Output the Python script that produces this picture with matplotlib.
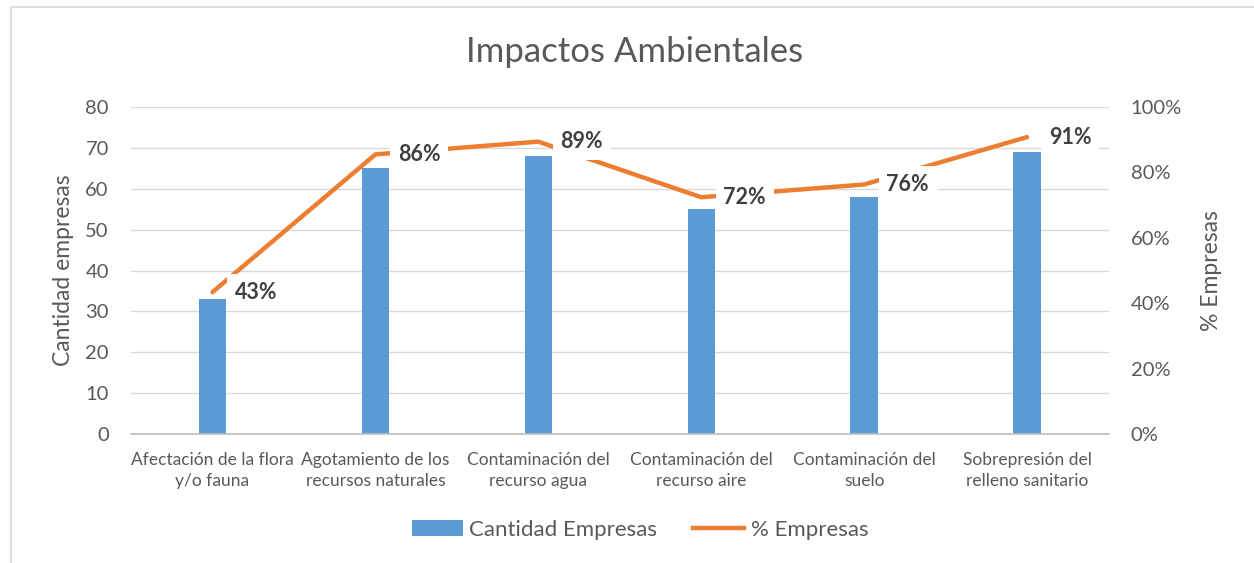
import matplotlib.pyplot as plt
from matplotlib.patches import Patch, Rectangle
from matplotlib.lines import Line2D

plt.rcParams['font.family'] = ['Lato', 'DejaVu Sans']

# datos del gráfico
categorias = ["Afectación de la flora\ny/o fauna",
              "Agotamiento de los\nrecursos naturales",
              "Contaminación del\nrecurso agua",
              "Contaminación del\nrecurso aire",
              "Contaminación del\nsuelo",
              "Sobrepresión del\nrelleno sanitario"]
cantidad = [33, 65, 68, 55, 58, 69]
porcentaje = [0.434, 0.855, 0.894, 0.724, 0.763, 0.908]

azul = '#5B9BD5'
naranja = '#ED7D31'
gris_txt = '#595959'

fig = plt.figure(figsize=(12.54, 5.63), dpi=100)
fig.patches.append(Rectangle((11 / 1254, -0.05), 1.2, 1.05 - 7 / 563, transform=fig.transFigure,
                             fill=False, edgecolor='#D9D9D9', linewidth=1.2))

ax = fig.add_axes([0.1045, 0.229, 0.7795, 0.581])
x = list(range(len(categorias)))
ax.bar(x, cantidad, width=0.168, color=azul, zorder=2)
ax.set_xlim(-0.5, len(categorias) - 0.5)
ax.set_ylim(0, 80)
ax.set_yticks(range(0, 81, 10))
ax.set_xticks(x)
ax.set_xticklabels(categorias, fontsize=12.5, color=gris_txt, linespacing=1.4)
ax.yaxis.grid(True, color='#D9D9D9', linewidth=1, zorder=0)
ax.set_axisbelow(True)
ax.tick_params(axis='both', length=0)
ax.tick_params(axis='y', labelsize=14.5, labelcolor=gris_txt, pad=16)
ax.tick_params(axis='x', pad=13)
for s in ['top', 'right', 'left']:
    ax.spines[s].set_visible(False)
ax.spines['bottom'].set_color('#BFBFBF')
ax.spines['bottom'].set_linewidth(1.2)
ax.set_ylabel("Cantidad empresas", fontsize=16.5, color=gris_txt, labelpad=8)

ax2 = ax.twinx()
ax2.plot(x, porcentaje, color=naranja, linewidth=3.2, solid_capstyle='round',
         solid_joinstyle='round', zorder=3)
ax2.set_ylim(0, 1)
ax2.set_yticks([0, 0.2, 0.4, 0.6, 0.8, 1.0])
ax2.set_yticklabels(['0%', '20%', '40%', '60%', '80%', '100%'])
ax2.tick_params(axis='y', length=0, labelsize=14.5, labelcolor=gris_txt, pad=16)
for s in ax2.spines.values():
    s.set_visible(False)
ax2.set_ylabel("% Empresas", fontsize=16.5, color=gris_txt, labelpad=14)

for xi, p in zip(x, porcentaje):
    ax2.annotate(f"{p:.0%}", (xi, p), xytext=(16, 0), textcoords='offset points',
                 ha='left', va='center', fontsize=15.5, fontweight='bold', color='#404040',
                 bbox=dict(boxstyle='square,pad=0.35', facecolor='white', edgecolor='none'),
                 zorder=5)

fig.text(635 / 1254, 1 - 52 / 563, "Impactos Ambientales", ha='center', va='center',
         fontsize=25, color=gris_txt)

handles = [Patch(facecolor=azul, edgecolor='none'),
           Line2D([0], [0], color=naranja, linewidth=3.2)]
fig.legend(handles, ["Cantidad Empresas", "% Empresas"], loc='center',
           bbox_to_anchor=(640 / 1254, 1 - 530 / 563), ncol=2, frameon=False,
           fontsize=16, handlelength=2.3, handletextpad=0.3, columnspacing=1.6,
           labelcolor=gris_txt)

fig.savefig('out.png', dpi=100)
